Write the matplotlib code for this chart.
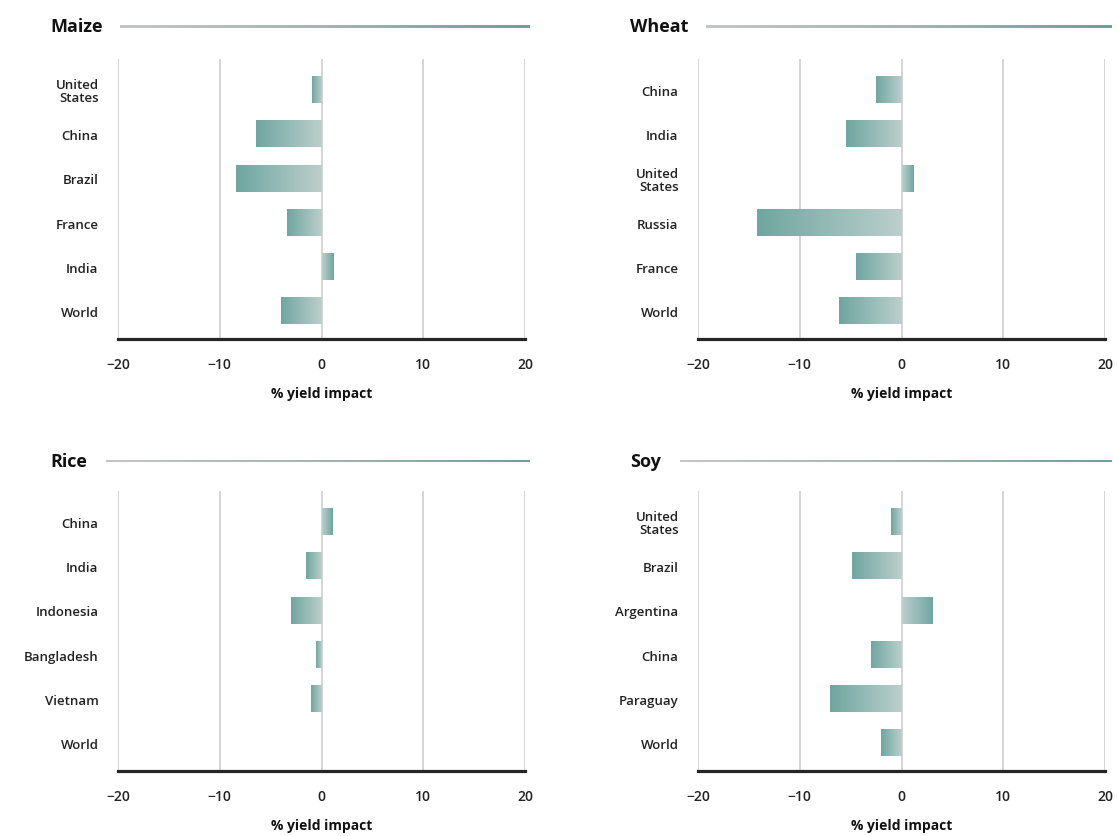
import matplotlib.pyplot as plt
import numpy as np
from matplotlib.colors import LinearSegmentedColormap

plt.rcParams['font.family'] = ['Open Sans', 'DejaVu Sans']

maize_labels = ['United\nStates', 'China', 'Brazil', 'France', 'India', 'World']
maize_values = [-0.9, -6.4, -8.4, -3.4, 1.1, -4.0]

wheat_labels = ['China', 'India', 'United\nStates', 'Russia', 'France', 'World']
wheat_values = [-2.5, -5.5, 1.1, -14.2, -4.5, -6.1]

rice_labels = ['China', 'India', 'Indonesia', 'Bangladesh', 'Vietnam', 'World']
rice_values = [1.0, -1.5, -3.0, -0.5, -1.0, 0.0]

soy_labels = ['United\nStates', 'Brazil', 'Argentina', 'China', 'Paraguay', 'World']
soy_values = [-1.0, -4.9, 3.0, -3.0, -7.0, -2.0]

ticks = [-20, -10, 0, 10, 20]
tick_labels = ['\u221220', '\u221210', '0', '10', '20']

bar_cmap = LinearSegmentedColormap.from_list('bar', ['#bccfcc', '#6fa6a0'])
line_cmap = LinearSegmentedColormap.from_list('line', ['#c4c6c5', '#a9b3b1', '#6e9f9a'])

W, H = 1118, 837
fig = plt.figure(figsize=(W / 100, H / 100), dpi=100)


def panel(left_px, bottom_px, title, labels, values, title_y_px, line_x0, line_x1):
    ax = fig.add_axes([left_px / W, 1 - bottom_px / H, 407 / W, 280 / H])
    for t in ticks:
        ax.axvline(t, color='#d2d2d2', lw=1.3, zorder=0)
    grad = np.linspace(0, 1, 256).reshape(1, -1)
    h = 0.3
    for i, v in enumerate(values):
        if v == 0:
            continue
        if v < 0:
            img = grad[:, ::-1]
            ext = (v, 0, i + h, i - h)
        else:
            img = grad
            ext = (0, v, i + h, i - h)
        ax.imshow(img, cmap=bar_cmap, extent=ext, aspect='auto', zorder=2,
                  interpolation='bilinear')
    ax.set_xlim(-20, 20)
    ax.set_ylim(5.63, -0.70)
    ax.set_yticks(range(len(labels)))
    ax.set_yticklabels(labels, fontsize=9.5, fontweight='semibold', color='#222222',
                       linespacing=1.0)
    ax.set_xticks(ticks)
    ax.set_xticklabels(tick_labels, fontsize=10, fontweight='semibold', color='#222222')
    ax.tick_params(axis='both', length=0)
    ax.tick_params(axis='y', pad=14)
    ax.tick_params(axis='x', pad=13)
    for s in ['top', 'right', 'left']:
        ax.spines[s].set_visible(False)
    ax.spines['bottom'].set_color('#262626')
    ax.spines['bottom'].set_linewidth(2.3)
    ax.set_xlabel('% yield impact', fontsize=10, fontweight='bold', color='#111111',
                  labelpad=11)
    fig.text((left_px - 68) / W, 1 - title_y_px / H, title, fontsize=13,
             fontweight='bold', color='#111111', va='center', ha='left')
    lax = fig.add_axes([line_x0 / W, 1 - (title_y_px + 1.5) / H,
                        (line_x1 - line_x0) / W, 3 / H])
    lax.imshow(grad, cmap=line_cmap, aspect='auto')
    lax.axis('off')
    return ax


panel(118, 340, 'Maize', maize_labels, maize_values, 27, 120, 530)
panel(698, 340, 'Wheat', wheat_labels, wheat_values, 27, 706, 1112)
panel(118, 772, 'Rice', rice_labels, rice_values, 462, 106, 530)
panel(698, 772, 'Soy', soy_labels, soy_values, 462, 680, 1112)

fig.savefig('out.png', dpi=100, facecolor='white')
